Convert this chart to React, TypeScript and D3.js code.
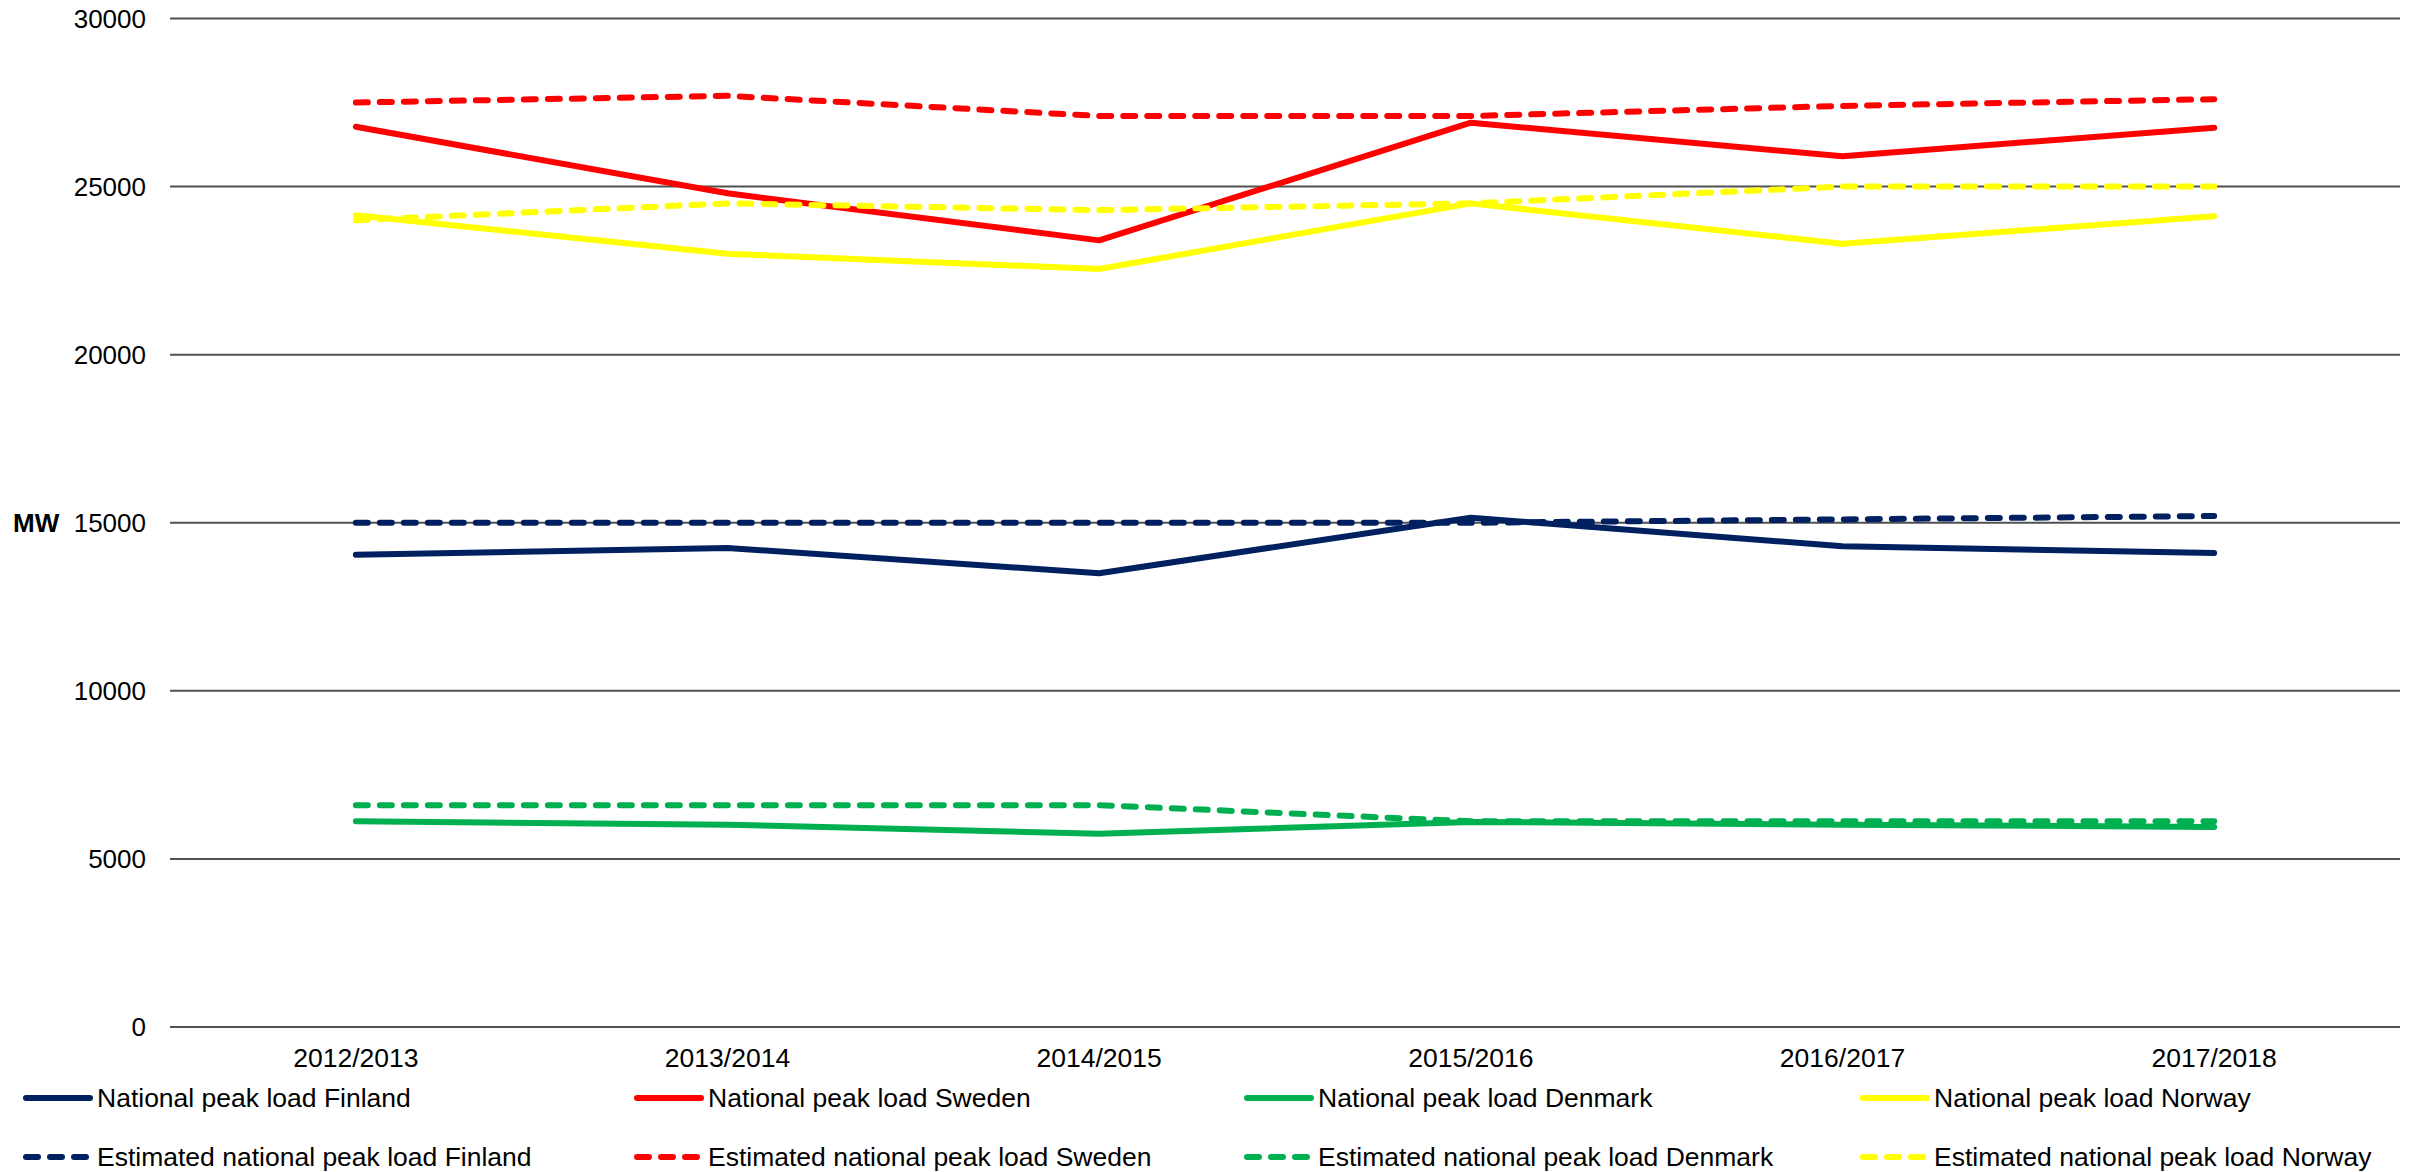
import React from "react";
import * as d3 from "d3";

const categories = ["2012/2013", "2013/2014", "2014/2015", "2015/2016", "2016/2017", "2017/2018"];
const yTicks = [0, 5000, 10000, 15000, 20000, 25000, 30000];

const finland = [14050, 14250, 13500, 15150, 14300, 14100];
const sweden = [26780, 24800, 23400, 26900, 25900, 26750];
const denmark = [6120, 6020, 5750, 6100, 6020, 5950];
const norway = [24150, 23000, 22550, 24500, 23300, 24120];

const finlandEst = [15000, 15000, 15000, 15000, 15100, 15200];
const swedenEst = [27500, 27700, 27100, 27100, 27400, 27600];
const denmarkEst = [6600, 6600, 6600, 6120, 6120, 6120];
const norwayEst = [24000, 24500, 24300, 24500, 25000, 25000];

const seriesNames = [
  "National peak load Finland",
  "National peak load Sweden",
  "National peak load Denmark",
  "National peak load Norway",
  "Estimated national peak load Finland",
  "Estimated national peak load Sweden",
  "Estimated national peak load Denmark",
  "Estimated national peak load Norway",
];
const seriesValues = [finland, sweden, denmark, norway, finlandEst, swedenEst, denmarkEst, norwayEst];
const seriesColors = ["#002060", "#FF0000", "#00B050", "#FFFF00", "#002060", "#FF0000", "#00B050", "#FFFF00"];
const seriesDashed = [false, false, false, false, true, true, true, true];

const W = 2415;
const H = 1172;
const left = 170;
const right = 2400;
const top = 18.5;
const bottom = 1027;
const FONT = "'Liberation Sans', Arial, Helvetica, sans-serif";

export default function App() {
  const x = d3.scalePoint<string>().domain(categories).range([left, right]).padding(0.5);
  const y = d3.scaleLinear().domain([0, 30000]).range([bottom, top]);
  const line = d3
    .line<number>()
    .x((_, i) => x(categories[i]) as number)
    .y((d) => y(d));

  const legendCols = [23, 634, 1244, 1860];
  const legendRows = [1098, 1157];

  return (
    <div style={{ position: "absolute", left: 0, top: 0 }}>
      <svg width={W} height={H} viewBox={`0 0 ${W} ${H}`} style={{ display: "block", background: "#fff" }}>
        {yTicks.map((t) => (
          <g key={t}>
            <line x1={left} x2={right} y1={y(t)} y2={y(t)} stroke="#505050" strokeWidth={2} />
            <text
              x={146}
              y={y(t)}
              dy="0.35em"
              textAnchor="end"
              fontFamily={FONT}
              fontSize={26}
              fill="#000"
            >
              {t}
            </text>
          </g>
        ))}
        <text x={13} y={y(15000)} dy="0.35em" fontFamily={FONT} fontSize={26} fontWeight="bold" fill="#000">
          MW
        </text>
        {categories.map((c) => (
          <text
            key={c}
            x={x(c) as number}
            y={1067}
            textAnchor="middle"
            fontFamily={FONT}
            fontSize={26.5}
            fill="#000"
          >
            {c}
          </text>
        ))}
        {seriesValues.map((vals, i) => (
          <path
            key={seriesNames[i]}
            d={line(vals) || ""}
            fill="none"
            stroke={seriesColors[i]}
            strokeWidth={6}
            strokeLinecap="round"
            strokeLinejoin="round"
            strokeDasharray={seriesDashed[i] ? "12 12" : undefined}
          />
        ))}
        {seriesNames.map((name, i) => {
          const col = i % 4;
          const row = Math.floor(i / 4);
          const lx = legendCols[col];
          const ly = legendRows[row];
          return (
            <g key={name}>
              <line
                x1={lx + 3}
                x2={seriesDashed[i] ? lx + 63 : lx + 67}
                y1={ly}
                y2={ly}
                stroke={seriesColors[i]}
                strokeWidth={6}
                strokeLinecap="round"
                strokeDasharray={seriesDashed[i] ? "12 12" : undefined}
              />
              <text x={lx + 74} y={ly} dy="0.35em" fontFamily={FONT} fontSize={26.5} fill="#000">
                {name}
              </text>
            </g>
          );
        })}
      </svg>
    </div>
  );
}
